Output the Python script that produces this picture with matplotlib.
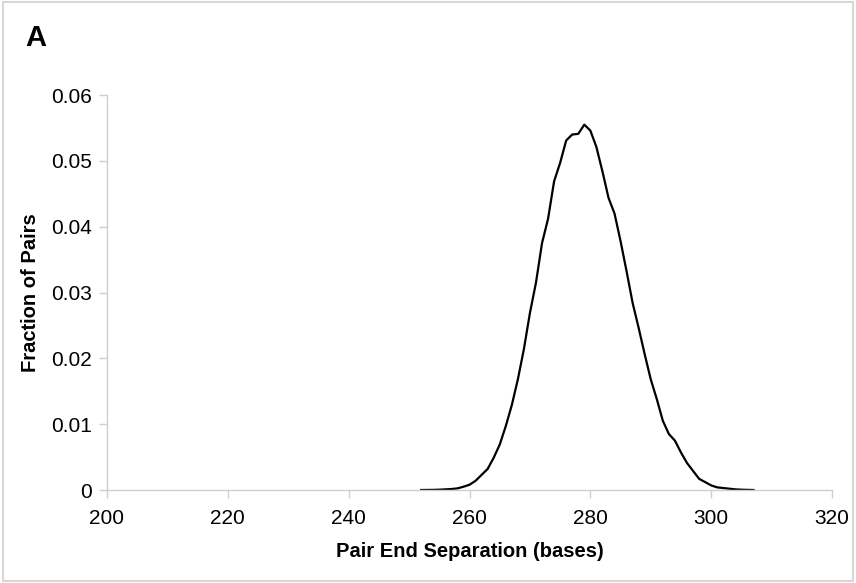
import matplotlib
matplotlib.use("Agg")
import matplotlib.pyplot as plt
import numpy as np

plt.rcParams["font.family"] = ["Liberation Sans", "DejaVu Sans"]

# pair end separation (bases) and fraction of pairs
separation = np.arange(252, 308)
fraction = [
    0.0, 0.00001, 0.00002, 0.00005, 0.0001, 0.00015, 0.00025, 0.0005,
    0.0008, 0.0014, 0.0023, 0.0032, 0.0049, 0.0069, 0.0097, 0.0129,
    0.0168, 0.0214, 0.0269, 0.0315, 0.0375, 0.0412, 0.0469, 0.0497,
    0.0531, 0.0540, 0.0541, 0.0555, 0.0546, 0.0521, 0.0484, 0.0444,
    0.0420, 0.0378, 0.0332, 0.0284, 0.0246, 0.0206, 0.0168, 0.0138,
    0.0105, 0.0085, 0.0075, 0.0057, 0.0041, 0.0029, 0.0017, 0.0012,
    0.0007, 0.0004, 0.0003, 0.0002, 0.0001, 0.00005, 0.00002, 0.0,
]
xticks = [200, 220, 240, 260, 280, 300, 320]
yticks = [0, 0.01, 0.02, 0.03, 0.04, 0.05, 0.06]
ytick_labels = ["0", "0.01", "0.02", "0.03", "0.04", "0.05", "0.06"]

fig = plt.figure(figsize=(8.56, 5.83), dpi=100)
ax = fig.add_axes([0.125, 0.1595, 0.847, 0.6775])

ax.plot(separation, fraction, color="black", lw=1.6)

ax.set_xlim(200, 320)
ax.set_ylim(0, 0.06)
ax.set_xticks(xticks)
ax.set_yticks(yticks)
ax.set_yticklabels(ytick_labels)

grey = "#cfcfcf"
for side in ["top", "right"]:
    ax.spines[side].set_visible(False)
for side in ["left", "bottom"]:
    ax.spines[side].set_color(grey)
    ax.spines[side].set_linewidth(1.0)
ax.tick_params(colors=grey, labelcolor="black", labelsize=15, length=6, width=1)
ax.tick_params(axis="x", pad=8)
ax.tick_params(axis="y", pad=5)

ax.set_xlabel("Pair End Separation (bases)", fontsize=14.5, fontweight="bold", labelpad=10)
ax.set_ylabel("Fraction of Pairs", fontsize=14.5, fontweight="bold", labelpad=8)

fig.text(0.029, 0.935, "A", fontsize=21, fontweight="bold", va="center")

# light frame around the whole figure
fig.patches.append(plt.Rectangle((0.004, 0.004), 0.992, 0.992, transform=fig.transFigure,
                                 fill=False, edgecolor="#d8d8d8", lw=1.5))

fig.savefig("out.png", dpi=100)
